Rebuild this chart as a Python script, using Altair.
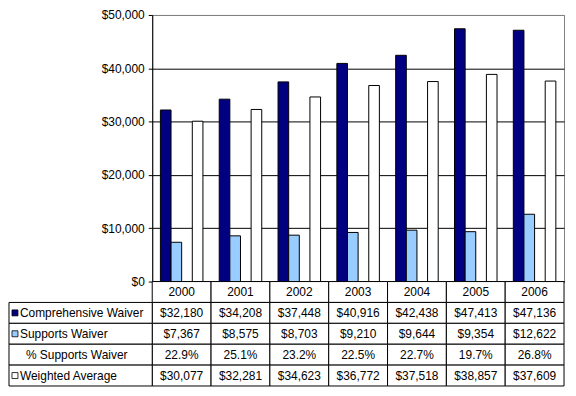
import altair as alt
import pandas as pd

# ---- data ----
years = ["2000", "2001", "2002", "2003", "2004", "2005", "2006"]
comprehensive = [32180, 34208, 37448, 40916, 42438, 47413, 47136]
supports = [7367, 8575, 8703, 9210, 9644, 9354, 12622]
pct_supports = [22.9, 25.1, 23.2, 22.5, 22.7, 19.7, 26.8]
weighted = [30077, 32281, 34623, 36772, 37518, 38857, 37609]

series_names = ["Comprehensive Waiver", "Supports Waiver", "% Supports Waiver", "Weighted Average"]
series_fill = ["#000080", "#99CCFF", "transparent", "#FFFFFF"]
series_stroke = ["#000000", "#000000", "transparent", "#000000"]
key_colors = ["#000080", "#99CCFF", "", "#FFFFFF"]
y_ticks = [0, 10000, 20000, 30000, 40000, 50000]

FONT = "Liberation Sans"
FS = 12
W = 414

# ---- bar data ----
series_values = [comprehensive, supports, pct_supports, weighted]
bar_rows = []
for i, yr in enumerate(years):
    for name, vals in zip(series_names, series_values):
        bar_rows.append({"year": yr, "series": name, "value": vals[i]})
bars_df = pd.DataFrame(bar_rows)

# ---- table data ----
HEADER = "header"
row_order = [HEADER] + series_names
cell_rows = []
for i, yr in enumerate(years):
    cell_rows.append({"year": yr, "row": HEADER, "text": yr})
    cell_rows.append({"year": yr, "row": series_names[0], "text": f"${comprehensive[i]:,}"})
    cell_rows.append({"year": yr, "row": series_names[1], "text": f"${supports[i]:,}"})
    cell_rows.append({"year": yr, "row": series_names[2], "text": f"{pct_supports[i]:.1f}%"})
    cell_rows.append({"year": yr, "row": series_names[3], "text": f"${weighted[i]:,}"})
cells_df = pd.DataFrame(cell_rows)

label_df = pd.DataFrame({
    "col": ["label"] * 4,
    "row": series_names,
    "label": series_names,
    "key": key_colors,
})

# ---- bar chart ----
bars = alt.Chart(bars_df).mark_bar(strokeWidth=1).encode(
    x=alt.X("year:N", sort=years,
            scale=alt.Scale(domain=years, paddingInner=0.277, paddingOuter=0.139),
            axis=alt.Axis(labels=False, ticks=False, title=None, domainColor="black", grid=False)),
    xOffset=alt.XOffset("series:N", sort=series_names,
                        scale=alt.Scale(domain=series_names, paddingInner=0, paddingOuter=0)),
    y=alt.Y("value:Q", scale=alt.Scale(domain=[0, 50000], nice=False),
            axis=alt.Axis(values=y_ticks, format="$,d", title=None, tickSize=4, labelPadding=4,
                          tickColor="black", domainColor="black",
                          gridColor={"condition": {"test": "datum.value === 50000", "value": "#808080"},
                                     "value": "black"},
                          labelFont=FONT, labelFontSize=FS, labelColor="black")),
    fill=alt.Fill("series:N", scale=alt.Scale(domain=series_names, range=series_fill), legend=None),
    stroke=alt.Stroke("series:N", scale=alt.Scale(domain=series_names, range=series_stroke), legend=None),
).properties(width=W, height=268, view=alt.ViewBackground(stroke="#808080"))

# ---- data table ----
y_row = alt.Y("row:N", sort=row_order,
              scale=alt.Scale(domain=row_order, paddingInner=0, paddingOuter=0), axis=None)
x_year = alt.X("year:N", sort=years,
               scale=alt.Scale(domain=years, paddingInner=0, paddingOuter=0), axis=None)
label_scale = alt.Scale(domain=["label"], range=[-144, 0], paddingInner=0, paddingOuter=0)

cell_rect = alt.Chart(cells_df).mark_rect(fill="white", stroke="black", strokeWidth=1).encode(
    x=x_year, y=y_row)
cell_text = alt.Chart(cells_df).mark_text(font=FONT, fontSize=FS, color="black").encode(
    x=x_year, y=y_row, text="text:N")

label_rect = alt.Chart(label_df).mark_rect(fill="white", stroke="black", strokeWidth=1).encode(
    x=alt.X("col:N", scale=label_scale, axis=None), y=y_row)
label_key = alt.Chart(label_df).transform_filter("datum.key != ''").mark_square(
    size=36, stroke="black", strokeWidth=0.8, opacity=1, xOffset=6).encode(
    x=alt.X("col:N", scale=label_scale, axis=None, bandPosition=0), y=y_row,
    fill=alt.Fill("key:N", scale=None))
label_text = alt.Chart(label_df).transform_filter("datum.key != ''").mark_text(
    font=FONT, fontSize=FS, color="black", align="left", dx=11).encode(
    x=alt.X("col:N", scale=label_scale, axis=None, bandPosition=0), y=y_row, text="label:N")
label_text2 = alt.Chart(label_df).transform_filter("datum.key == ''").mark_text(
    font=FONT, fontSize=FS, color="black", align="left", dx=17).encode(
    x=alt.X("col:N", scale=label_scale, axis=None, bandPosition=0), y=y_row, text="label:N")

table = alt.layer(
    alt.layer(cell_rect, cell_text),
    alt.layer(label_rect, label_key, label_text, label_text2),
).resolve_scale(x="independent").properties(
    width=W, height=105, view=alt.ViewBackground(stroke="transparent"))

chart = alt.vconcat(bars, table, spacing=0, bounds="flush").properties(
    padding={"left": 0, "top": -1, "right": 2, "bottom": 2}
).configure(background="white")

chart.save("out.html", embed_options={"renderer": "svg", "actions": False})
